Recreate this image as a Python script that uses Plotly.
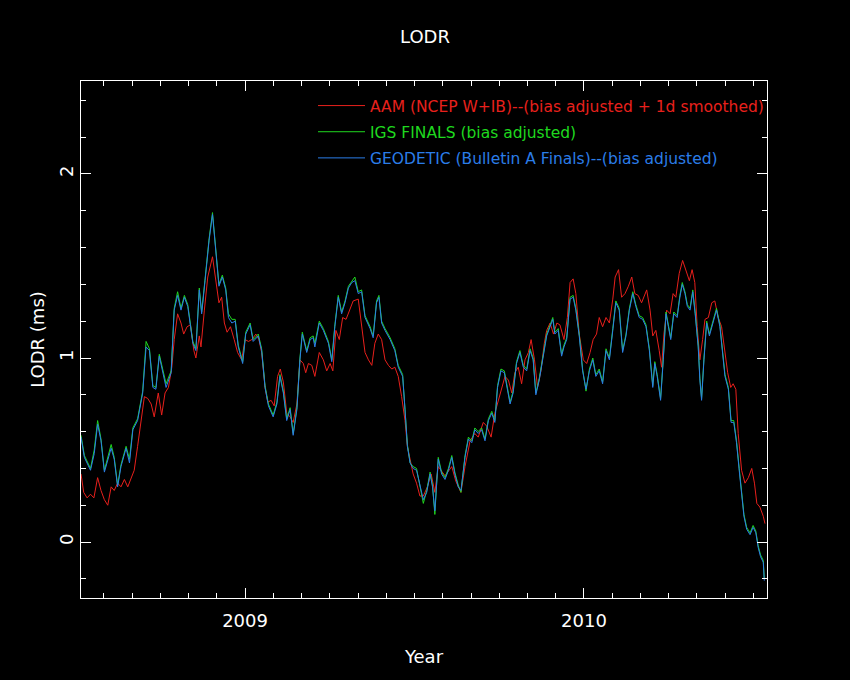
import plotly.graph_objects as go

# decimal years and LODR (ms) values
geo_year = [2008.516, 2008.526, 2008.544, 2008.555, 2008.565, 2008.575, 2008.585, 2008.595, 2008.605, 2008.614,
            2008.624, 2008.634, 2008.649, 2008.659, 2008.669, 2008.683, 2008.698, 2008.708, 2008.718, 2008.728,
            2008.737, 2008.747, 2008.757, 2008.767, 2008.782, 2008.791, 2008.801, 2008.811, 2008.821, 2008.831,
            2008.846, 2008.855, 2008.865, 2008.872, 2008.882, 2008.894, 2008.904, 2008.914, 2008.923, 2008.933,
            2008.943, 2008.951, 2008.961, 2008.971, 2008.980, 2008.993, 2009.002, 2009.015, 2009.024, 2009.039,
            2009.049, 2009.059, 2009.069, 2009.083, 2009.094, 2009.103, 2009.113, 2009.123, 2009.133, 2009.142,
            2009.153, 2009.162, 2009.169, 2009.182, 2009.192, 2009.201, 2009.206, 2009.219, 2009.231, 2009.246,
            2009.256, 2009.265, 2009.275, 2009.285, 2009.295, 2009.305, 2009.315, 2009.324, 2009.334, 2009.344,
            2009.354, 2009.369, 2009.378, 2009.388, 2009.395, 2009.403, 2009.413, 2009.428, 2009.442, 2009.452,
            2009.465, 2009.472, 2009.479, 2009.487, 2009.496, 2009.506, 2009.516, 2009.526, 2009.536, 2009.546,
            2009.553, 2009.560, 2009.570, 2009.580, 2009.590, 2009.600, 2009.610, 2009.619, 2009.629, 2009.637,
            2009.649, 2009.659, 2009.669, 2009.678, 2009.688, 2009.698, 2009.708, 2009.718, 2009.728, 2009.737,
            2009.745, 2009.755, 2009.765, 2009.775, 2009.782, 2009.791, 2009.801, 2009.811, 2009.821, 2009.831,
            2009.841, 2009.850, 2009.858, 2009.868, 2009.878, 2009.890, 2009.900, 2009.908, 2009.914, 2009.924,
            2009.934, 2009.941, 2009.949, 2009.959, 2009.968, 2009.976, 2009.986, 2009.996, 2010.006, 2010.016,
            2010.026, 2010.035, 2010.045, 2010.055, 2010.065, 2010.075, 2010.085, 2010.094, 2010.104, 2010.114,
            2010.124, 2010.134, 2010.144, 2010.153, 2010.163, 2010.173, 2010.183, 2010.193, 2010.203, 2010.209,
            2010.216, 2010.226, 2010.234, 2010.242, 2010.249, 2010.256, 2010.265, 2010.275, 2010.283, 2010.290,
            2010.298, 2010.305, 2010.313, 2010.321, 2010.328, 2010.337, 2010.342, 2010.347, 2010.354, 2010.362,
            2010.370, 2010.377, 2010.384, 2010.391, 2010.401, 2010.409, 2010.416, 2010.426, 2010.434, 2010.442,
            2010.450, 2010.458, 2010.465, 2010.472, 2010.480, 2010.490, 2010.499, 2010.507, 2010.514, 2010.521,
            2010.529, 2010.532]

geo_lodr = [0.57, 0.46, 0.39, 0.48, 0.64, 0.55, 0.38, 0.45, 0.51, 0.45,
            0.30, 0.41, 0.51, 0.43, 0.61, 0.66, 0.81, 1.06, 1.04, 0.84,
            0.83, 1.01, 0.93, 0.84, 0.92, 1.26, 1.34, 1.26, 1.33, 1.28,
            1.08, 1.04, 1.37, 1.24, 1.42, 1.64, 1.78, 1.59, 1.39, 1.44,
            1.37, 1.22, 1.19, 1.20, 1.06, 0.97, 1.13, 1.18, 1.09, 1.12,
            1.04, 0.84, 0.74, 0.68, 0.75, 0.90, 0.81, 0.66, 0.72, 0.58,
            0.72, 0.99, 1.13, 1.03, 1.10, 1.11, 1.06, 1.19, 1.15, 1.08,
            0.98, 1.17, 1.33, 1.24, 1.30, 1.38, 1.41, 1.42, 1.35, 1.36,
            1.22, 1.16, 1.11, 1.30, 1.33, 1.19, 1.15, 1.10, 1.04, 0.95,
            0.90, 0.72, 0.52, 0.43, 0.40, 0.39, 0.30, 0.23, 0.27, 0.37,
            0.30, 0.17, 0.45, 0.37, 0.34, 0.39, 0.46, 0.37, 0.30, 0.28,
            0.46, 0.56, 0.54, 0.61, 0.59, 0.61, 0.55, 0.66, 0.70, 0.65,
            0.84, 0.93, 0.92, 0.83, 0.75, 0.81, 0.97, 1.03, 0.95, 0.93,
            1.04, 0.99, 0.80, 0.88, 0.99, 1.12, 1.17, 1.21, 1.13, 1.15,
            1.01, 1.06, 1.10, 1.32, 1.33, 1.26, 1.12, 0.93, 0.83, 0.93,
            0.99, 0.90, 0.93, 0.86, 1.04, 0.99, 1.15, 1.30, 1.26, 1.03,
            1.12, 1.26, 1.35, 1.28, 1.22, 1.21, 1.17, 1.04, 0.84, 0.97,
            0.90, 0.77, 0.99, 1.24, 1.17, 1.10, 1.24, 1.22, 1.33, 1.40,
            1.35, 1.28, 1.26, 1.36, 1.24, 1.06, 0.88, 0.77, 0.99, 1.19,
            1.12, 1.17, 1.22, 1.26, 1.17, 1.04, 0.90, 0.83, 0.65, 0.65,
            0.54, 0.39, 0.25, 0.14, 0.07, 0.04, 0.08, 0.05, -0.03, -0.08,
            -0.11, -0.21]

igs_lodr = [0.58, 0.47, 0.40, 0.50, 0.66, 0.56, 0.39, 0.46, 0.53, 0.46,
            0.31, 0.42, 0.52, 0.45, 0.62, 0.67, 0.82, 1.09, 1.05, 0.85,
            0.84, 1.02, 0.94, 0.86, 0.93, 1.27, 1.36, 1.27, 1.34, 1.29,
            1.09, 1.05, 1.38, 1.25, 1.43, 1.65, 1.79, 1.60, 1.40, 1.45,
            1.38, 1.24, 1.21, 1.21, 1.07, 0.98, 1.14, 1.19, 1.10, 1.13,
            1.05, 0.85, 0.75, 0.69, 0.76, 0.91, 0.82, 0.67, 0.73, 0.59,
            0.73, 1.00, 1.14, 1.04, 1.11, 1.12, 1.08, 1.20, 1.16, 1.09,
            0.99, 1.18, 1.34, 1.25, 1.31, 1.39, 1.42, 1.44, 1.36, 1.37,
            1.23, 1.17, 1.12, 1.31, 1.34, 1.20, 1.16, 1.11, 1.05, 0.96,
            0.91, 0.73, 0.53, 0.43, 0.41, 0.40, 0.31, 0.21, 0.28, 0.38,
            0.31, 0.15, 0.46, 0.38, 0.35, 0.40, 0.47, 0.38, 0.31, 0.27,
            0.47, 0.57, 0.55, 0.62, 0.60, 0.62, 0.56, 0.67, 0.71, 0.66,
            0.85, 0.94, 0.93, 0.84, 0.76, 0.82, 0.98, 1.04, 0.96, 0.94,
            1.05, 1.00, 0.81, 0.89, 1.00, 1.13, 1.18, 1.22, 1.14, 1.16,
            1.02, 1.07, 1.11, 1.33, 1.34, 1.27, 1.13, 0.94, 0.82, 0.94,
            1.00, 0.91, 0.94, 0.87, 1.05, 1.00, 1.16, 1.31, 1.27, 1.04,
            1.13, 1.27, 1.36, 1.29, 1.23, 1.22, 1.18, 1.05, 0.85, 0.98,
            0.91, 0.78, 1.00, 1.25, 1.18, 1.11, 1.25, 1.23, 1.34, 1.41,
            1.36, 1.29, 1.27, 1.37, 1.25, 1.07, 0.89, 0.78, 1.00, 1.20,
            1.13, 1.18, 1.23, 1.27, 1.18, 1.05, 0.91, 0.84, 0.66, 0.66,
            0.55, 0.40, 0.26, 0.15, 0.08, 0.05, 0.09, 0.06, -0.02, -0.07,
            -0.10, -0.20]

aam_year = [2008.516, 2008.524, 2008.534, 2008.544, 2008.554, 2008.565, 2008.575, 2008.585, 2008.595, 2008.605,
            2008.614, 2008.624, 2008.634, 2008.644, 2008.654, 2008.664, 2008.673, 2008.683, 2008.693, 2008.703,
            2008.713, 2008.723, 2008.732, 2008.744, 2008.754, 2008.764, 2008.774, 2008.784, 2008.791, 2008.801,
            2008.811, 2008.819, 2008.829, 2008.839, 2008.849, 2008.855, 2008.865, 2008.870, 2008.880, 2008.890,
            2008.904, 2008.914, 2008.923, 2008.931, 2008.939, 2008.947, 2008.957, 2008.968, 2008.978, 2008.990,
            2009.000, 2009.010, 2009.020, 2009.032, 2009.041, 2009.049, 2009.059, 2009.067, 2009.077, 2009.086,
            2009.096, 2009.104, 2009.113, 2009.123, 2009.133, 2009.142, 2009.153, 2009.162, 2009.172, 2009.179,
            2009.187, 2009.197, 2009.206, 2009.219, 2009.231, 2009.241, 2009.251, 2009.259, 2009.268, 2009.278,
            2009.288, 2009.298, 2009.308, 2009.319, 2009.334, 2009.344, 2009.354, 2009.364, 2009.374, 2009.383,
            2009.393, 2009.403, 2009.413, 2009.423, 2009.433, 2009.442, 2009.452, 2009.462, 2009.472, 2009.479,
            2009.487, 2009.496, 2009.506, 2009.516, 2009.526, 2009.538, 2009.549, 2009.560, 2009.570, 2009.590,
            2009.610, 2009.622, 2009.637, 2009.649, 2009.664, 2009.678, 2009.688, 2009.703, 2009.713, 2009.726,
            2009.737, 2009.747, 2009.757, 2009.767, 2009.777, 2009.787, 2009.796, 2009.806, 2009.816, 2009.826,
            2009.836, 2009.844, 2009.854, 2009.863, 2009.873, 2009.883, 2009.890, 2009.900, 2009.910, 2009.920,
            2009.929, 2009.941, 2009.951, 2009.959, 2009.968, 2009.976, 2009.986, 2009.998, 2010.008, 2010.018,
            2010.027, 2010.037, 2010.045, 2010.055, 2010.065, 2010.075, 2010.085, 2010.092, 2010.102, 2010.111,
            2010.121, 2010.131, 2010.141, 2010.150, 2010.160, 2010.170, 2010.185, 2010.195, 2010.203, 2010.212,
            2010.222, 2010.229, 2010.236, 2010.244, 2010.254, 2010.263, 2010.271, 2010.281, 2010.291, 2010.301,
            2010.311, 2010.319, 2010.327, 2010.334, 2010.342, 2010.350, 2010.357, 2010.367, 2010.377, 2010.386,
            2010.396, 2010.406, 2010.416, 2010.424, 2010.433, 2010.440, 2010.448, 2010.455, 2010.465, 2010.475,
            2010.485, 2010.495, 2010.503, 2010.510, 2010.519, 2010.529, 2010.534]

aam_lodr = [0.37, 0.27, 0.24, 0.26, 0.24, 0.35, 0.28, 0.23, 0.20, 0.30,
            0.28, 0.32, 0.30, 0.34, 0.30, 0.35, 0.39, 0.52, 0.65, 0.79,
            0.78, 0.75, 0.68, 0.81, 0.69, 0.81, 0.84, 0.95, 1.10, 1.24,
            1.19, 1.13, 1.17, 1.18, 1.04, 1.00, 1.12, 1.06, 1.26, 1.44,
            1.55, 1.42, 1.30, 1.33, 1.19, 1.14, 1.17, 1.10, 1.03, 0.99,
            1.10, 1.09, 1.10, 1.13, 1.10, 1.03, 0.84, 0.76, 0.77, 0.74,
            0.90, 0.94, 0.87, 0.70, 0.68, 0.65, 0.75, 0.99, 0.97, 0.92,
            0.97, 0.96, 0.90, 1.03, 0.99, 0.93, 0.97, 0.93, 1.15, 1.10,
            1.22, 1.21, 1.26, 1.31, 1.32, 1.17, 1.03, 0.99, 0.96, 1.08,
            1.13, 1.10, 0.99, 0.96, 0.94, 0.95, 0.90, 0.79, 0.66, 0.52,
            0.45, 0.37, 0.32, 0.25, 0.25, 0.30, 0.37, 0.27, 0.41, 0.36,
            0.41, 0.33, 0.27, 0.41, 0.55, 0.59, 0.57, 0.65, 0.63, 0.57,
            0.70, 0.77, 0.84, 0.90, 0.88, 0.81, 0.92, 0.95, 0.86, 0.99,
            1.03, 1.10, 0.99, 0.84, 0.93, 1.08, 1.15, 1.19, 1.13, 1.19,
            1.18, 1.10, 1.22, 1.41, 1.43, 1.35, 1.13, 0.99, 0.97, 1.03,
            1.10, 1.13, 1.22, 1.17, 1.22, 1.19, 1.32, 1.44, 1.48, 1.33,
            1.35, 1.39, 1.44, 1.35, 1.34, 1.30, 1.37, 1.26, 1.12, 1.15,
            1.04, 0.95, 1.13, 1.26, 1.24, 1.35, 1.33, 1.46, 1.53, 1.48,
            1.42, 1.48, 1.41, 1.17, 0.99, 1.10, 1.21, 1.22, 1.30, 1.31,
            1.22, 1.17, 1.04, 0.92, 0.84, 0.86, 0.83, 0.59, 0.39, 0.32,
            0.35, 0.40, 0.32, 0.21, 0.19, 0.14, 0.10]

series = [
    ("AAM (NCEP W+IB)--(bias adjusted + 1d smoothed)", aam_year, aam_lodr, "#e8201c"),
    ("IGS FINALS (bias adjusted)", geo_year, igs_lodr, "#1fd81f"),
    ("GEODETIC (Bulletin A Finals)--(bias adjusted)", geo_year, geo_lodr, "#2b7de8"),
]

FONT = "DejaVu Sans"

fig = go.Figure()
for i, (name, xs, ys, col) in enumerate(series):
    fig.add_trace(go.Scatter(
        x=xs, y=ys, mode="lines",
        name=f"<span style='color:{col}'>{name}</span>",
        legendgroup=str(i),
        line=dict(color=col, width=1),
    ))

axis_common = dict(
    showline=True, linecolor="white", linewidth=1, mirror="ticks",
    showgrid=False, zeroline=False,
    ticks="inside", tickcolor="white", tickwidth=1, ticklen=10,
    tickfont=dict(family=FONT, size=18, color="white"),
)

fig.update_layout(
    width=850, height=680,
    paper_bgcolor="black", plot_bgcolor="black",
    margin=dict(l=81, r=83, t=81, b=82),
    title=dict(text="LODR", x=0.5, xanchor="center", y=1 - 37 / 680, yanchor="middle",
               font=dict(family=FONT, size=18, color="white")),
    xaxis=dict(
        range=[2008.516, 2010.54], tickvals=[2009, 2010], ticktext=["2009", "2010"],
        ticklabelstandoff=6,
        minor=dict(dtick=1 / 12, tick0=2009, ticklen=5, ticks="inside", tickcolor="white"),
        title=dict(text="Year", font=dict(family=FONT, size=18, color="white"), standoff=20),
        **axis_common,
    ),
    yaxis=dict(
        range=[-0.304, 2.505], tickvals=[0, 1, 2], ticktext=["0", "1", "2"], tickangle=-90,
        minor=dict(dtick=0.2, tick0=0, ticklen=5, ticks="inside", tickcolor="white"),
        title=dict(text="LODR (ms)", font=dict(family=FONT, size=18, color="white"), standoff=6),
        **axis_common,
    ),
    showlegend=True,
    legend=dict(
        x=(313 - 81) / 686, xanchor="left", y=(598 - 89) / 517, yanchor="top",
        bgcolor="rgba(0,0,0,0)", borderwidth=0, itemwidth=47, tracegroupgap=3,
        font=dict(family=FONT, size=15.5, color="white"),
    ),
)

fig.write_html("out.html", config={"displayModeBar": False},
               post_script="document.body.style.margin='0';document.body.style.background='black';")
